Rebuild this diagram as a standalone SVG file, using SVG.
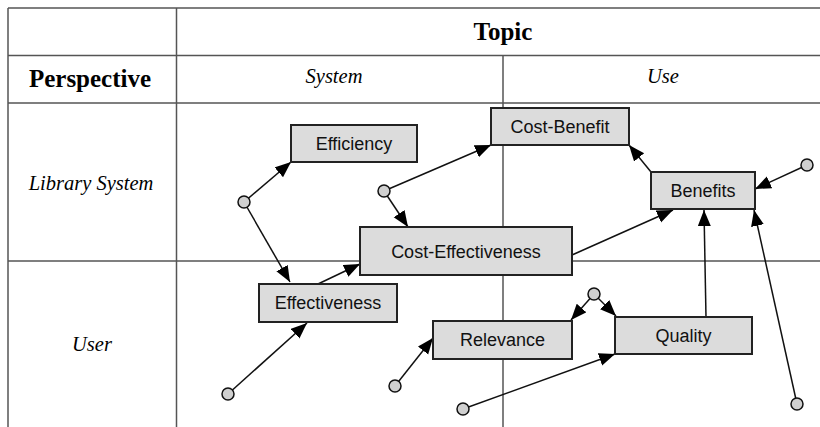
<svg xmlns="http://www.w3.org/2000/svg" width="820" height="427" viewBox="0 0 820 427">
<style>
.grid{stroke:#555;stroke-width:1.5;fill:none}
.hdr{font-family:"Liberation Serif",serif;font-weight:bold;font-size:25px;fill:#000;text-anchor:middle}
.it{font-family:"Liberation Serif",serif;font-style:italic;font-size:20.5px;fill:#000;text-anchor:middle}
.box{fill:#dcdcdc;stroke:#222;stroke-width:2}
.lbl{font-family:"Liberation Sans",Arial,sans-serif;font-size:18px;fill:#111;text-anchor:middle}
.con{stroke:#111;stroke-width:1.5;fill:none;marker-end:url(#arr)}
.dot{fill:#d0d0d0;stroke:#111;stroke-width:1.5}
</style>
<defs>
<marker id="arr" markerUnits="userSpaceOnUse" markerWidth="17" markerHeight="14" refX="16" refY="6.5" orient="auto">
<path d="M0,0 L16,6.5 L0,13 z" fill="#000"/>
</marker>
</defs>
<g id="table">
<line class="grid" x1="8" y1="8" x2="820" y2="8"/>
<line class="grid" x1="8" y1="55.5" x2="820" y2="55.5"/>
<line class="grid" x1="8" y1="103" x2="820" y2="103"/>
<line class="grid" x1="8" y1="261" x2="820" y2="261"/>
<line class="grid" x1="8" y1="8" x2="8" y2="427"/>
<line class="grid" x1="176.5" y1="8" x2="176.5" y2="427"/>
<line class="grid" x1="503" y1="55.5" x2="503" y2="427"/>
<text class="hdr" x="503" y="40">Topic</text>
<text class="hdr" x="90" y="87">Perspective</text>
<text class="it" x="334" y="83">System</text>
<text class="it" x="663" y="83">Use</text>
<text class="it" x="91" y="190">Library System</text>
<text class="it" x="92" y="351">User</text>
</g>
<g id="connectors">
<line class="con" x1="244" y1="202" x2="291" y2="162"/>
<line class="con" x1="244" y1="202" x2="290" y2="282"/>
<line class="con" x1="384" y1="191" x2="491" y2="145"/>
<line class="con" x1="384" y1="191" x2="408" y2="227"/>
<line class="con" x1="318" y1="284" x2="360" y2="264"/>
<line class="con" x1="572" y1="255" x2="673" y2="210"/>
<line class="con" x1="651" y1="172" x2="629" y2="145"/>
<line class="con" x1="807" y1="165" x2="755" y2="189"/>
<line class="con" x1="706" y1="317" x2="704" y2="210"/>
<line class="con" x1="797" y1="404" x2="754" y2="210"/>
<line class="con" x1="594" y1="294" x2="571" y2="320"/>
<line class="con" x1="594" y1="294" x2="616" y2="316"/>
<line class="con" x1="463" y1="409" x2="615" y2="354"/>
<line class="con" x1="395" y1="386" x2="433" y2="338"/>
<line class="con" x1="228" y1="394" x2="307" y2="323"/>
</g>
<g id="dots">
<circle class="dot" cx="244" cy="202" r="6"/>
<circle class="dot" cx="384" cy="191" r="6"/>
<circle class="dot" cx="807" cy="165" r="6"/>
<circle class="dot" cx="228" cy="394" r="6"/>
<circle class="dot" cx="395" cy="386" r="6"/>
<circle class="dot" cx="594" cy="294" r="6"/>
<circle class="dot" cx="463" cy="409" r="6"/>
<circle class="dot" cx="797" cy="404" r="6"/>
</g>
<g id="efficiency"><rect class="box" x="291" y="125" width="126" height="37"/><text class="lbl" x="354" y="150">Efficiency</text></g>
<g id="cost-benefit"><rect class="box" x="491" y="108" width="138" height="37"/><text class="lbl" x="560" y="133">Cost-Benefit</text></g>
<g id="benefits"><rect class="box" x="651" y="172" width="104" height="37"/><text class="lbl" x="703" y="197">Benefits</text></g>
<g id="cost-effectiveness"><rect class="box" x="360" y="227" width="212" height="48"/><text class="lbl" x="466" y="257.5">Cost-Effectiveness</text></g>
<g id="effectiveness"><rect class="box" x="259" y="284" width="138" height="38"/><text class="lbl" x="328" y="309">Effectiveness</text></g>
<g id="relevance"><rect class="box" x="433" y="321" width="139" height="38"/><text class="lbl" x="502.5" y="346">Relevance</text></g>
<g id="quality"><rect class="box" x="615" y="317" width="137" height="37"/><text class="lbl" x="683.5" y="342">Quality</text></g>
</svg>
